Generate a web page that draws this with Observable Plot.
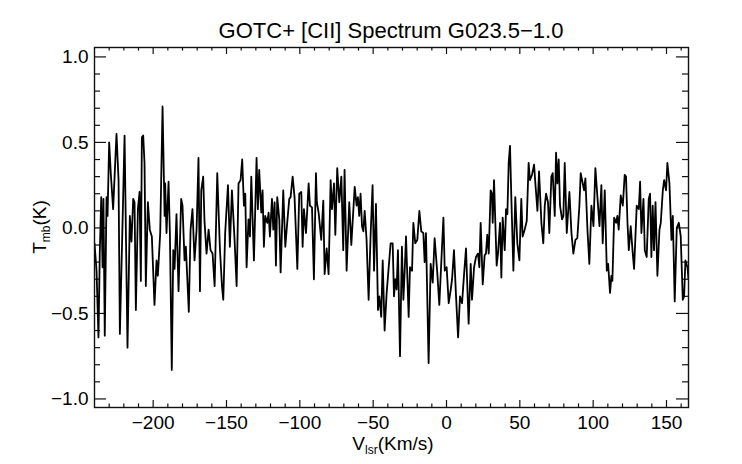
<!DOCTYPE html>
<html>
<head>
<meta charset="utf-8">
<script src="https://cdn.jsdelivr.net/npm/d3@7"></script>
<script src="https://cdn.jsdelivr.net/npm/@observablehq/plot@0.6"></script>
<style>
  html, body { margin: 0; padding: 0; background: #fff; }
  body { width: 742px; height: 464px; overflow: hidden; font-family: "Liberation Sans", Arial, sans-serif; }
  #title { box-sizing: content-box; height: 24px; padding-top: 21px; padding-left: 94px; width: 594px;
           text-align: center; font-size: 22px; line-height: 20px; color: #000; white-space: nowrap; }
  #chart svg { display: block; }
</style>
</head>
<body>
<div id="title">GOTC+ [CII] Spectrum G023.5−1.0</div>
<div id="chart"></div>
<script>
// Spectrum: velocity (km/s) and main-beam temperature (K)
const vel = [
  -240.0,-238.6,-237.3,-236.4,-235.4,-234.5,-233.9,-233.0,-231.8,-231.1,-230.0,-228.9,-227.3,-225.0,-223.6,-222.7,
  -220.9,-219.5,-217.5,-215.9,-214.8,-213.6,-212.7,-211.8,-210.4,-209.3,-208.4,-207.7,-206.8,-205.9,-205.0,-203.6,
  -202.3,-200.9,-199.1,-197.7,-196.8,-195.2,-193.6,-192.2,-191.8,-190.9,-189.5,
  -188.6,-187.3,-186.3,-185.4,-184.1,-182.7,-180.9,-180.0,-178.6,-177.7,-175.7,-174.5,-173.2,-171.8,-170.4,-169.1,
  -168.1,-167.2,-165.9,-165.0,-163.6,-162.2,-160.9,-159.5,-158.1,-156.3,-154.5,-153.1,-152.2,-150.9,-149.0,-147.7,
  -146.3,-144.5,-143.1,-141.8,-140.4,-139.3,
  -138.1,-137.2,-136.3,-135.0,-134.0,-133.1,-131.3,-129.5,-128.6,-127.7,-126.3,-125.4,-124.5,-123.6,-122.2,-121.3,
  -120.4,-119.0,-118.1,-117.2,-116.3,-115.4,-114.0,-113.1,-111.3,-109.9,-108.6,-107.2,-106.3,-104.9,-103.6,-101.7,
  -100.4,-99.0,-98.1,-97.2,-95.8,-94.0,-93.1,-91.7,-90.4,-89.0,
  -88.4,-87.2,-85.4,-84.0,-83.1,-81.7,-80.4,-79.0,-78.1,-76.7,-75.8,-74.5,-73.1,-71.7,-70.4,-69.5,-68.1,-66.3,-64.9,
  -62.6,-61.3,-60.4,-59.5,-58.6,-57.6,-56.7,-55.8,-54.5,-53.1,-51.7,-50.4,-49.4,-48.1,-46.7,-45.8,-44.5,-43.5,-42.2,
  -40.8,-38.1,
  -36.7,-35.8,-34.9,-34.0,-33.1,-31.7,-30.4,-29.4,-28.5,-27.6,-25.8,-24.9,-23.5,-22.6,-21.3,-19.9,-18.5,-17.2,-15.8,
  -14.9,-14.0,-12.2,-10.8,-9.4,-8.1,-6.3,-4.9,-3.5,-2.1,-1.2,0.1,1.5,2.9,3.8,5.1,6.5,7.9,9.2,10.6,11.9,
  13.3,15.1,16.5,17.4,18.8,20.1,21.5,22.4,23.3,24.7,26.0,26.9,27.8,28.8,30.1,31.0,31.5,32.4,34.2,35.1,36.5,37.4,38.3,
  39.7,40.6,41.5,42.4,43.3,44.2,45.6,46.9,48.3,49.7,51.0,51.9,53.3,54.7,56.0,56.9,58.3,59.7,60.6,62.0,63.1,
  64.7,66.0,67.0,67.9,69.2,70.1,71.5,72.4,73.8,74.7,75.6,76.5,77.4,78.8,79.7,80.6,82.0,83.8,85.2,86.5,87.9,89.2,
  90.6,91.5,92.9,93.8,94.7,96.1,97.4,98.8,100.2,101.5,102.9,104.3,105.6,106.5,107.9,109.3,110.2,111.5,112.4,
  113.1,114.3,115.6,116.5,117.4,118.8,120.2,121.5,122.4,123.4,124.3,125.6,127.0,127.9,129.7,131.1,132.0,132.9,
  134.3,135.2,136.5,137.9,138.8,139.7,140.6,141.5,142.5,143.8,145.2,146.1,147.5,148.4,149.7,150.6,152.0,153.4,
  154.3,155.6,157.0,158.4,159.7,161.1,162.0,162.9,164.3,165.0
];
const tmb = [
  -0.09,-0.25,-0.64,-0.15,0.18,-0.23,0.17,-0.63,0.18,0.07,0.50,0.32,0.11,0.55,0.28,-0.62,
  0.02,0.54,-0.70,0.07,-0.08,0.17,0.15,-0.48,0.11,0.21,-0.31,0.53,0.54,0.38,-0.34,0.15,
  -0.01,-0.05,-0.45,-0.19,-0.28,-0.03,0.71,0.07,0.26,-0.03,0.27,
  -0.03,-0.83,-0.13,-0.24,0.08,-0.37,0.17,0.13,-0.19,-0.11,-0.49,-0.01,0.11,-0.19,-0.01,0.41,
  -0.37,0.22,0.30,0.04,-0.15,-0.01,-0.13,-0.15,-0.34,0.32,-0.12,-0.34,-0.42,-0.03,0.25,-0.11,
  0.22,-0.07,-0.34,0.26,0.28,0.40,
  0.13,0.20,-0.23,0.05,-0.05,0.30,-0.19,0.41,0.11,0.34,0.09,0.22,-0.11,0.07,0.03,0.09,
  -0.05,0.17,-0.01,0.15,-0.22,0.18,0.05,-0.26,0.22,-0.11,0.03,0.17,0.18,0.30,0.18,-0.24,
  0.20,0.21,-0.11,0.11,-0.03,0.26,0.13,0.12,-0.30,0.32,
  0.15,0.09,-0.07,0.16,-0.27,-0.12,-0.27,0.28,0.11,0.26,-0.04,0.35,0.15,0.30,-0.13,0.34,-0.25,0.15,-0.10,
  0.24,0.13,0.18,0.07,0.20,0.01,-0.02,0.10,-0.07,-0.42,-0.03,0.25,-0.25,0.14,-0.48,-0.40,-0.52,-0.19,-0.60,
  -0.38,-0.09,
  -0.09,-0.40,-0.30,-0.36,-0.13,-0.75,-0.11,-0.42,-0.25,-0.05,-0.52,-0.23,-0.25,0.03,-0.09,-0.07,0.10,-0.02,-0.03,
  -0.20,-0.03,-0.79,-0.21,-0.32,-0.06,-0.26,-0.45,-0.19,0.06,-0.25,-0.23,-0.44,-0.36,-0.30,-0.13,-0.40,-0.64,-0.40,-0.44,-0.28,
  -0.12,-0.56,-0.21,-0.42,-0.23,-0.17,-0.15,-0.23,0.03,-0.33,-0.16,-0.15,-0.04,-0.15,0.22,0.20,0.03,0.28,-0.22,-0.15,0.03,-0.29,0.06,
  -0.13,0.11,0.08,0.38,0.48,0.18,-0.25,0.18,-0.09,-0.19,0.17,-0.05,-0.01,0.04,0.38,0.28,0.31,0.37,0.26,0.10,0.33,
  0.03,-0.09,0.13,0.20,0.15,-0.03,0.30,0.32,0.07,0.44,0.26,0.40,0.13,0.05,0.07,0.38,-0.03,0.21,-0.03,-0.15,-0.07,-0.06,
  0.13,0.32,0.26,0.22,0.29,-0.01,-0.21,0.13,0.01,0.35,0.18,0.01,0.25,-0.09,0.22,-0.25,-0.21,-0.38,-0.28,
  -0.31,0.06,0.03,0.07,-0.01,0.19,0.13,0.31,0.30,0.03,-0.13,0.01,-0.15,-0.24,0.13,0.11,0.27,-0.03,
  0.17,-0.13,-0.17,0.17,0.20,-0.17,0.13,-0.13,0.15,-0.28,-0.01,0.03,0.22,0.28,0.22,0.38,0.26,-0.07,
  0.07,-0.43,0.00,0.03,-0.05,-0.42,-0.40,-0.19,-0.23,-0.30
];

// Axes
const xDomain = [-240, 165];
const yDomain = [-1.05, 1.055];
const xMajor = [-200, -150, -100, -50, 0, 50, 100, 150];
const xMinor = [-230,-220,-210,-190,-180,-170,-160,-140,-130,-120,-110,-90,-80,-70,-60,-40,-30,-20,-10,
                10,20,30,40,60,70,80,90,110,120,130,140,160];
const yMajor = [-1.0, -0.5, 0.0, 0.5, 1.0];
const yMinor = [-0.9,-0.8,-0.7,-0.6,-0.4,-0.3,-0.2,-0.1,0.1,0.2,0.3,0.4,0.6,0.7,0.8,0.9];
const xLabelMain = "V", xLabelSub = "lsr", xLabelTail = "(Km/s)";
const yLabelMain = "T", yLabelSub = "mb", yLabelTail = "(K)";

const W = 742, H = 419, mL = 94, mR = 54, mT = 2, mB = 57;
const plotW = W - mL - mR, plotH = H - mT - mB;
const ink = "#111";
const xMajLen = 7, xMinLen = 3.6, yMajLen = 12, yMinLen = 6;

const idx = d3.range(vel.length);

const plot = Plot.plot({
  width: W, height: H,
  marginLeft: mL, marginRight: mR, marginTop: mT, marginBottom: mB,
  x: {domain: xDomain},
  y: {domain: yDomain},
  style: {fontFamily: "'Liberation Sans', Arial, sans-serif", fontSize: "19px", color: "#000", background: "#fff", overflow: "visible"},
  marks: [
    Plot.axisX(xMajor, {tickSize: 0, tickPadding: 8, tickFormat: d3.format("d"), label: null}),
    Plot.axisY(yMajor, {tickSize: 0, tickPadding: 6, tickFormat: d3.format(".1f"), label: null}),
    // inward ticks on all four sides
    Plot.tickX(xMajor, {x: d => d, insetTop: plotH - xMajLen, stroke: ink, strokeWidth: 1.2}),
    Plot.tickX(xMajor, {x: d => d, insetBottom: plotH - xMajLen, stroke: ink, strokeWidth: 1.2}),
    Plot.tickX(xMinor, {x: d => d, insetTop: plotH - xMinLen, stroke: ink, strokeWidth: 1.2}),
    Plot.tickX(xMinor, {x: d => d, insetBottom: plotH - xMinLen, stroke: ink, strokeWidth: 1.2}),
    Plot.tickY(yMajor, {y: d => d, insetRight: plotW - yMajLen, stroke: ink, strokeWidth: 1.2}),
    Plot.tickY(yMajor, {y: d => d, insetLeft: plotW - yMajLen, stroke: ink, strokeWidth: 1.2}),
    Plot.tickY(yMinor, {y: d => d, insetRight: plotW - yMinLen, stroke: ink, strokeWidth: 1.2}),
    Plot.tickY(yMinor, {y: d => d, insetLeft: plotW - yMinLen, stroke: ink, strokeWidth: 1.2}),
    Plot.line(idx, {x: i => vel[i], y: i => tmb[i], stroke: "#000", strokeWidth: 1.8, clip: true}),
    Plot.frame({stroke: ink, strokeWidth: 1.4})
  ]
});

// axis titles with subscripts
const svg = d3.select(plot);
const [xr0, xr1] = plot.scale("x").range;
const [yr0, yr1] = plot.scale("y").range;
const xl = svg.append("text")
  .attr("x", (xr0 + xr1) / 2 + 2).attr("y", yr0 + 43)
  .attr("text-anchor", "middle").attr("fill", "#000").style("font-size", "19px");
xl.append("tspan").text(xLabelMain);
xl.append("tspan").attr("dy", 4).style("font-size", "12px").text(xLabelSub);
xl.append("tspan").attr("dy", -4).text(xLabelTail);

const yl = svg.append("text")
  .attr("transform", `translate(${xr0 - 48},${(yr0 + yr1) / 2}) rotate(-90)`)
  .attr("text-anchor", "middle").attr("fill", "#000").style("font-size", "19px");
yl.append("tspan").text(yLabelMain);
yl.append("tspan").attr("dy", 4).style("font-size", "12px").text(yLabelSub);
yl.append("tspan").attr("dy", -4).text(yLabelTail);

document.getElementById("chart").appendChild(plot);
</script>
</body>
</html>
